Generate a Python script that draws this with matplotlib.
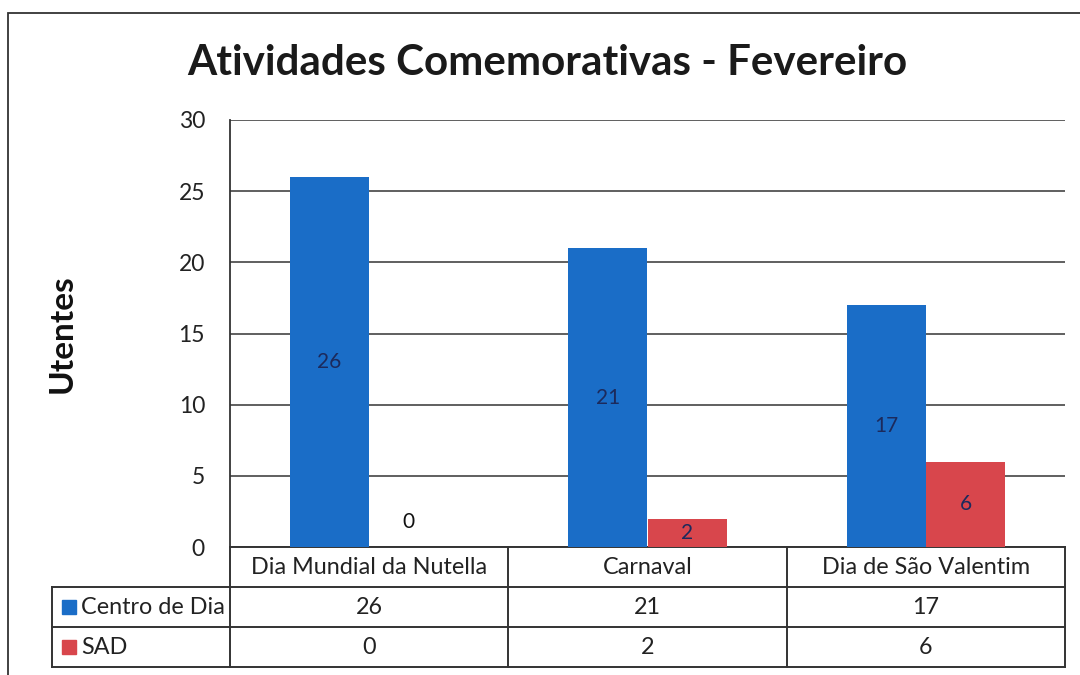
import matplotlib
matplotlib.use("Agg")
import matplotlib.pyplot as plt
import matplotlib.transforms as mtransforms
from matplotlib.patches import Rectangle
from matplotlib.lines import Line2D
import numpy as np

categories = ["Dia Mundial da Nutella", "Carnaval", "Dia de São Valentim"]
series_names = ["Centro de Dia", "SAD"]
centro_dia = [26, 21, 17]
sad = [0, 2, 6]
yticks = [0, 5, 10, 15, 20, 25, 30]
title = "Atividades Comemorativas - Fevereiro"
ylabel = "Utentes"

colors = ["#1a6dc7", "#d8464c"]
FONT = ["Lato", "DejaVu Sans"]
plt.rcParams["font.family"] = FONT

W, H = 1080, 675
fig = plt.figure(figsize=(W / 100, H / 100), dpi=100)
fig.patch.set_facecolor("white")

# outer frame
fig.add_artist(Rectangle((8 / W, -0.1), 1.2, 1 - 13 / H + 0.1, transform=fig.transFigure,
                         fill=False, edgecolor="#333333", linewidth=1.3))

left_px, right_px, top_px, bot_px = 230, 1065, 120, 547
ax = fig.add_axes([left_px / W, 1 - bot_px / H, (right_px - left_px) / W, (bot_px - top_px) / H])

x = np.arange(len(categories))
bw = 0.285
series = [centro_dia, sad]
for i, (vals, c) in enumerate(zip(series, colors)):
    pos = x + (i - 0.5) * bw
    ax.bar(pos, vals, width=bw, color=c, zorder=3)
    for xp, v in zip(pos, vals):
        yl = v / 2 if v > 0 else 1.75
        col = "#1c2a5c" if v > 0 else "#111111"
        ax.text(xp, yl, str(v), ha="center", va="center", fontsize=15, color=col, zorder=4)

ax.set_xlim(-0.5, len(categories) - 0.5)
ax.set_ylim(0, 30)
ax.set_yticks(yticks)
ax.set_yticklabels([str(t) for t in yticks], fontsize=16.5, color="#222222")
ax.tick_params(axis="y", length=0, pad=18)
ax.tick_params(axis="x", length=0, labelbottom=False)
ax.grid(axis="y", color="#444444", linewidth=1.2, zorder=0)
for s in ["top", "right", "bottom"]:
    ax.spines[s].set_visible(False)
ax.spines["left"].set_color("#333333")
ax.spines["left"].set_linewidth(1.3)

ax.set_ylabel(ylabel, fontsize=24, fontweight="bold", labelpad=73, color="#111111")

fig.text(547 / W, 1 - 63 / H, title, ha="center", va="center", fontsize=30.3,
         fontweight="bold", color="#1a1a1a")

# data table below axis
trans = mtransforms.blended_transform_factory(ax.transData, ax.transAxes)
plot_h = bot_px - top_px
cat_w = (right_px - left_px) / len(categories)
row_h = 40 / plot_h
label_left = -0.5 - (left_px - 52) / cat_w
lc = "#333333"
lw = 1.4
n = len(categories)
ax.add_line(Line2D([-0.5, n - 0.5], [0, 0], transform=trans, color=lc, lw=lw, clip_on=False))
for k in [1, 2, 3]:
    ax.add_line(Line2D([label_left, n - 0.5], [-k * row_h, -k * row_h], transform=trans,
                       color=lc, lw=lw, clip_on=False))
for b in np.arange(n + 1) - 0.5:
    ax.add_line(Line2D([b, b], [0, -3 * row_h], transform=trans, color=lc, lw=lw, clip_on=False))
ax.add_line(Line2D([label_left, label_left], [-row_h, -3 * row_h], transform=trans,
                   color=lc, lw=lw, clip_on=False))

for j, cat in enumerate(categories):
    ax.text(j, -0.5 * row_h, cat, transform=trans, ha="center", va="center", fontsize=16.8,
            color="#222222", clip_on=False)
sq_w = 14 / cat_w
sq_h = 14 / plot_h
for r, (name, vals, c) in enumerate(zip(series_names, series, colors)):
    yc = -(1.5 + r) * row_h
    ax.add_patch(Rectangle((label_left + 10 / cat_w, yc - sq_h / 2), sq_w, sq_h, transform=trans,
                           color=c, clip_on=False))
    ax.text(label_left + 29 / cat_w, yc, name, transform=trans, ha="left", va="center",
            fontsize=16.8, color="#222222", clip_on=False)
    for j, v in enumerate(vals):
        ax.text(j, yc, str(v), transform=trans, ha="center", va="center", fontsize=16.8,
                color="#222222", clip_on=False)

fig.savefig("out.png", dpi=100)
